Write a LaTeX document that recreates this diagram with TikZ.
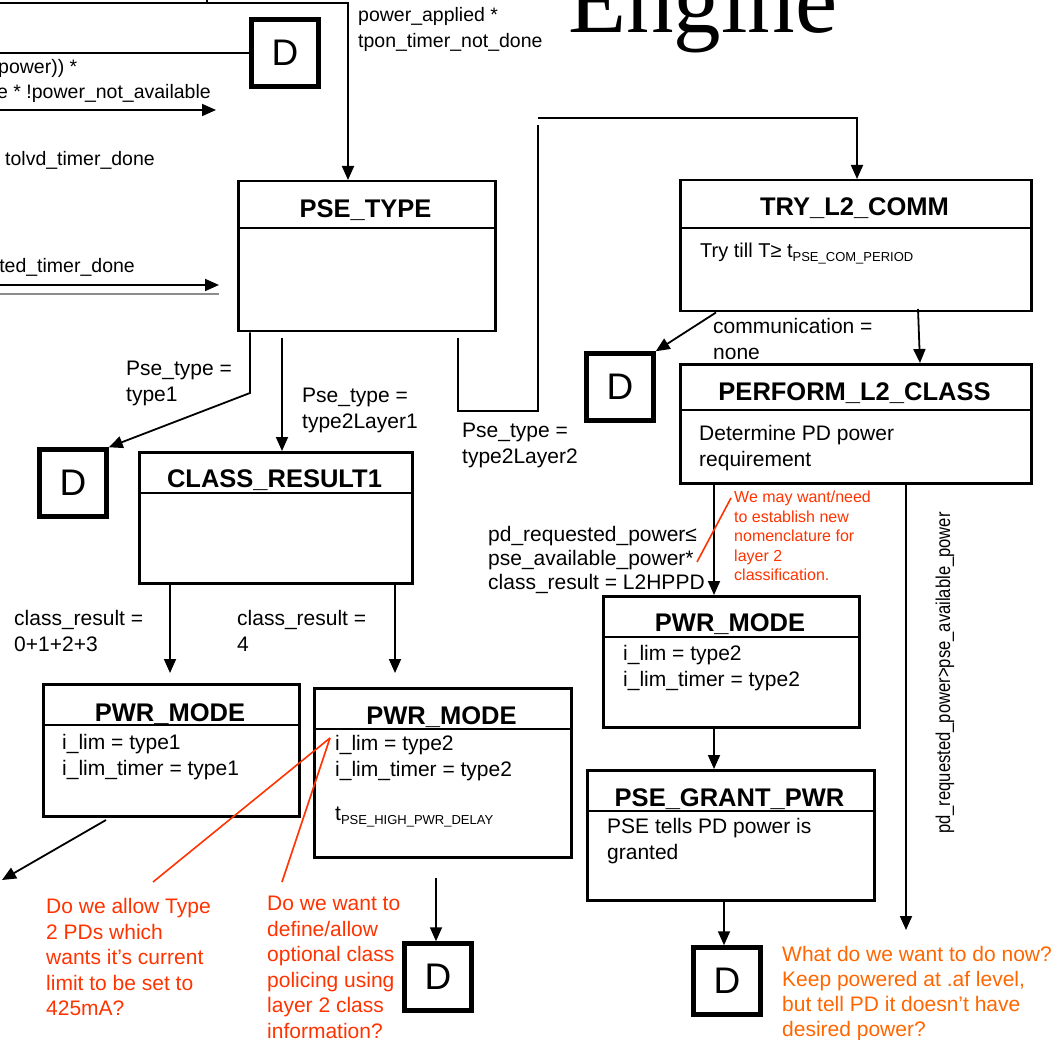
\documentclass[tikz,border=0pt]{standalone}
\usepackage{fontspec}
\setmainfont{Liberation Sans}
\newfontfamily\serifE{Liberation Serif}
\usetikzlibrary{arrows.meta,calc}
\definecolor{redA}{HTML}{FF3300}
\definecolor{orangeA}{HTML}{FF6600}
\tikzset{
  box/.style={draw, line width=2.5pt, inner sep=0pt, anchor=north west},
  dbox/.style={draw, line width=4.5pt, minimum size=67pt, inner sep=0pt, font=\fontsize{37}{37}\selectfont},
  ttl/.style={font=\fontsize{25.5}{30}\selectfont\bfseries, anchor=base, inner sep=0pt},
  lbl/.style={font=\fontsize{21}{26}\selectfont, anchor=base west, align=left, inner sep=0pt},
  toplbl/.style={font=\fontsize{19.5}{26}\selectfont, align=left, inner sep=0pt},
  redtxt/.style={font=\fontsize{21}{25.6}\selectfont, text=redA, anchor=base west, align=left, inner sep=0pt},
  smallred/.style={font=\fontsize{16}{19.6}\selectfont, text=redA, anchor=base west, align=left, inner sep=0pt},
  orangetxt/.style={font=\fontsize{21}{25.3}\selectfont, text=orangeA, anchor=base west, align=left, inner sep=0pt},
  arr/.style={line width=1.8pt, -{Triangle[length=14pt,width=12pt]}},
  ln/.style={line width=1.8pt},
  divl/.style={line width=2pt},
  redln/.style={draw=redA, line width=1.6pt}
}
\newcommand{\subtxt}[1]{\raisebox{-4pt}{\fontsize{13}{13}\selectfont #1}}
\begin{document}
\begin{tikzpicture}[x=1pt,y=-1pt]
\useasboundingbox (0,0) rectangle (1057,1040);
\clip (0,0) rectangle (1057,1040);

% title fragment
\node[anchor=base west, inner sep=0pt, font=\serifE\fontsize{95}{95}\selectfont] (engine) at (568,33) {Engine};

% state boxes (multi-line nodes: base anchor = baseline of last line)
\node[box, minimum width=257pt, minimum height=150pt] (pse) at (237,180) {};
\draw[divl] (237,228) -- (494,228);
\node[ttl] (pset) at (365.5,218) {PSE\_TYPE};

\node[box, minimum width=351pt, minimum height=131pt] (try) at (679,179) {};
\draw[divl] (679,228) -- (1030,228);
\node[ttl] (tryt) at (854.5,216) {TRY\_L2\_COMM};
\node[lbl, font=\fontsize{20}{26}\selectfont] (tryb) at (700,257.5) {Try till T≥ t\subtxt{PSE\_COM\_PERIOD}};

\node[box, minimum width=351pt, minimum height=119pt] (perf) at (679,363) {};
\draw[divl] (679,410) -- (1030,410);
\node[ttl] (perft) at (854.5,400) {PERFORM\_L2\_CLASS};
\node[lbl] (perfb) at (699,466.5) {Determine PD power\\requirement};

\node[box, minimum width=273pt, minimum height=131pt] (cr1) at (138,451) {};
\draw[divl] (138,493) -- (411,493);
\node[ttl] (cr1t) at (274.5,487) {CLASS\_RESULT1};

\node[box, minimum width=256pt, minimum height=132pt] (pwl) at (42,683) {};
\draw[divl] (42,725) -- (298,725);
\node[ttl] (pwlt) at (170,721) {PWR\_MODE};
\node[lbl] (pwlb) at (62,775.5) {i\_lim = type1\\i\_lim\_timer = type1};

\node[box, minimum width=257pt, minimum height=169pt] (pwm) at (313,687) {};
\draw[divl] (313,729) -- (570,729);
\node[ttl] (pwmt) at (441.5,724) {PWR\_MODE};
\node[lbl] (pwmb) at (335,776.5) {i\_lim = type2\\i\_lim\_timer = type2};
\node[lbl] (pwmc) at (335,820) {t\subtxt{PSE\_HIGH\_PWR\_DELAY}};

\node[box, minimum width=256pt, minimum height=131pt] (pwr) at (602,595) {};
\draw[divl] (602,637) -- (858,637);
\node[ttl] (pwrt) at (730,631) {PWR\_MODE};
\node[lbl] (pwrb) at (623,686.5) {i\_lim = type2\\i\_lim\_timer = type2};

\node[box, minimum width=287pt, minimum height=130pt] (grant) at (586,769) {};
\draw[divl] (586,811) -- (873,811);
\node[ttl] (grantt) at (729.5,806) {PSE\_GRANT\_PWR};
\node[lbl] (grantb) at (607,859.5) {PSE tells PD power is\\granted};

% D boxes
\node[dbox] (d1) at (285,53) {D};
\node[dbox] (d2) at (73,483) {D};
\node[dbox] (d3) at (620,387) {D};
\node[dbox] (d4) at (438,977) {D};
\node[dbox] (d5) at (727,981) {D};

% top-left fragments
\draw[arr] (0,3) -- (348,3) -- (348,0 |- pse.north);
\draw[ln] (207,-2) -- (207,3);
\draw[ln] (0,53) -- (d1.west);
\draw[arr] (0,110) -- (216,110);
\draw[arr] (0,285) -- (219,285);
\draw[line width=1.5pt, black!45] (0,294) -- (219,294);
\node[toplbl, anchor=base west] (t1) at (-8.5,73.5) {(power)) *};
\node[toplbl, anchor=base east] (t2) at (211,98.5) {e * !power\_not\_available};
\node[toplbl, anchor=base west] (t3) at (5,166) {tolvd\_timer\_done};
\node[toplbl, anchor=base east] (t4) at (135,273) {ted\_timer\_done};
\node[toplbl, anchor=base west] (t5) at (358,48) {power\_applied *\\tpon\_timer\_not\_done};

% connectors
\draw[arr] (250,0 |- pse.south) -- (250,393) -- (d2.north east);
\draw[arr] (282,338) -- (282,0 |- cr1.north);
\draw[ln] (458,338) -- (458,411) -- (538,411) -- (538,125);
\draw[arr] (538,118) -- (857,118) -- (857,0 |- try.north);
\draw[arr] (716,0 |- try.south) -- (d3.north east);
\draw[arr] (918,309) -- (920,0 |- perf.north);
\draw[arr] (714,0 |- perf.south) -- (714,0 |- pwr.north);
\draw[arr] (906,0 |- perf.south) -- (906,930);
\draw[arr] (170,0 |- cr1.south) -- (170,673);
\draw[arr] (395,0 |- cr1.south) -- (395,673);
\draw[arr] (106,820) -- (2,880);
\draw[arr] (436,878) -- (436,0 |- d4.north);
\draw[arr] (714,0 |- pwr.south) -- (714,0 |- grant.north);
\draw[arr] (724,0 |- grant.south) -- (724,0 |- d5.north);

% labels
\node[lbl] (l1) at (126,401.5) {Pse\_type =\\type1};
\node[lbl] (l2) at (302,428.5) {Pse\_type =\\type2Layer1};
\node[lbl] (l3) at (462,463.5) {Pse\_type =\\type2Layer2};
\node[lbl] (l4) at (14,651.5) {class\_result =\\0+1+2+3};
\node[lbl] (l5) at (237,651.5) {class\_result =\\4};
\node[lbl] (l6) at (713,359.5) {communication =\\none};
\node[lbl, font=\fontsize{21}{24}\selectfont] (l7) at (488,589.5) {pd\_requested\_power≤\\pse\_available\_power*\\class\_result = L2HPPD};
\node[rotate=90, inner sep=0pt, font=\fontsize{20}{24}\selectfont] (l8) at (945,673) {\scalebox{0.83}[1]{pd\_requested\_power>pse\_available\_power}};

% red annotations
\draw[redln] (153,882) -- (330,738);
\draw[redln] (282,882) -- (330,738);
\draw[redln] (697,562) -- (731,498);
\node[redtxt] (r1) at (46,1015.9) {Do we allow Type\\2 PDs which\\wants it’s current\\limit to be set to\\425mA?};
\node[redtxt] (r2) at (267,1038.5) {Do we want to\\define/allow\\optional class\\policing using\\layer 2 class\\information?};
\node[smallred] (r3) at (734,580.9) {We may want/need\\to establish new\\nomenclature for\\layer 2\\classification.};
\node[orangetxt] (r4) at (782,1036.9) {What do we want to do now?\\Keep powered at .af level,\\but tell PD it doesn’t have\\desired power?};
\end{tikzpicture}
\end{document}
